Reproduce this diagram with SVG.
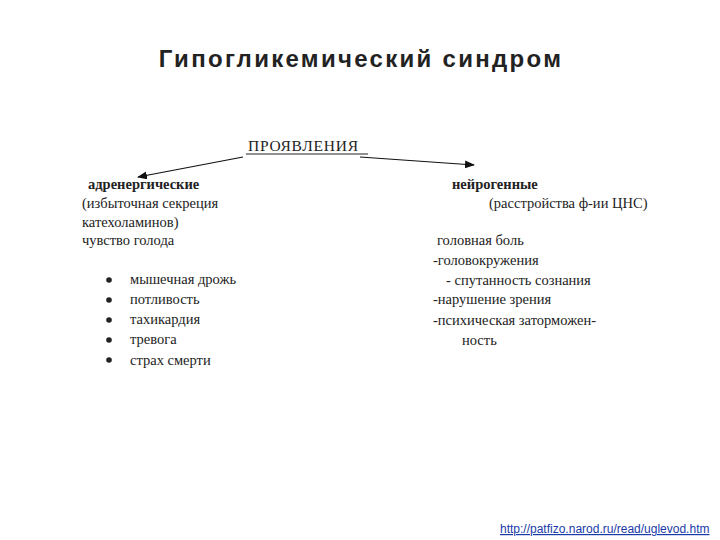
<svg xmlns="http://www.w3.org/2000/svg" width="720" height="540" viewBox="0 0 720 540">
<style>
.t{font-family:"Liberation Serif",serif;font-size:14.5px;fill:#222}
.b{font-weight:bold}
</style>
<defs><marker id="ah" markerWidth="10" markerHeight="8" refX="9" refY="4" orient="auto" markerUnits="userSpaceOnUse"><path d="M0,0 L10,4 L0,8 Z" fill="#111"/></marker></defs>
<rect width="720" height="540" fill="#fff"/>
<text x="361" y="67" text-anchor="middle" font-family="Liberation Sans,Arial,sans-serif" font-size="24" font-weight="bold" letter-spacing="2.3" fill="#222">Гипогликемический синдром</text>
<g id="root"><text class="t" x="248" y="151" style="font-size:15.5px" letter-spacing="0.8">ПРОЯВЛЕНИЯ</text><line x1="246" y1="154" x2="368" y2="154" stroke="#222"/></g>
<g id="connectors" stroke="#111" stroke-width="1.2">
<line x1="243" y1="157" x2="138" y2="177" marker-end="url(#ah)"/>
<line x1="360" y1="157" x2="474" y2="165" marker-end="url(#ah)"/>
</g>
<g id="adrenergic">
<text class="t b" x="88" y="189">адренергические</text>
<text class="t" x="82" y="208">(избыточная секреция</text>
<text class="t" x="82" y="227">катехоламинов)</text>
<text class="t" x="82" y="245">чувство голода</text>
<g fill="#222"><circle cx="109" cy="280" r="2.8"/><circle cx="109" cy="300" r="2.8"/><circle cx="109" cy="320" r="2.8"/><circle cx="109" cy="340" r="2.8"/><circle cx="109" cy="360" r="2.8"/></g>
<text class="t" x="130" y="284">мышечная дрожь</text>
<text class="t" x="130" y="304">потливость</text>
<text class="t" x="130" y="324">тахикардия</text>
<text class="t" x="130" y="344">тревога</text>
<text class="t" x="130" y="365">страх смерти</text>
</g>
<g id="neurogenic">
<text class="t b" x="452" y="189">нейрогенные</text>
<text class="t" x="489" y="208">(расстройства  ф-ии  ЦНС)</text>
<text class="t" x="437" y="245">головная боль</text>
<text class="t" x="433" y="265">-головокружения</text>
<text class="t" x="446" y="285">- спутанность сознания</text>
<text class="t" x="433" y="304">-нарушение зрения</text>
<text class="t" x="433" y="325">-психическая заторможен-</text>
<text class="t" x="462" y="345">ность</text>
</g>
<text x="500" y="533" font-family="Liberation Sans,Arial,sans-serif" font-size="12" fill="#1a3aa8" text-decoration="underline">http://patfizo.narod.ru/read/uglevod.htm</text>
</svg>
